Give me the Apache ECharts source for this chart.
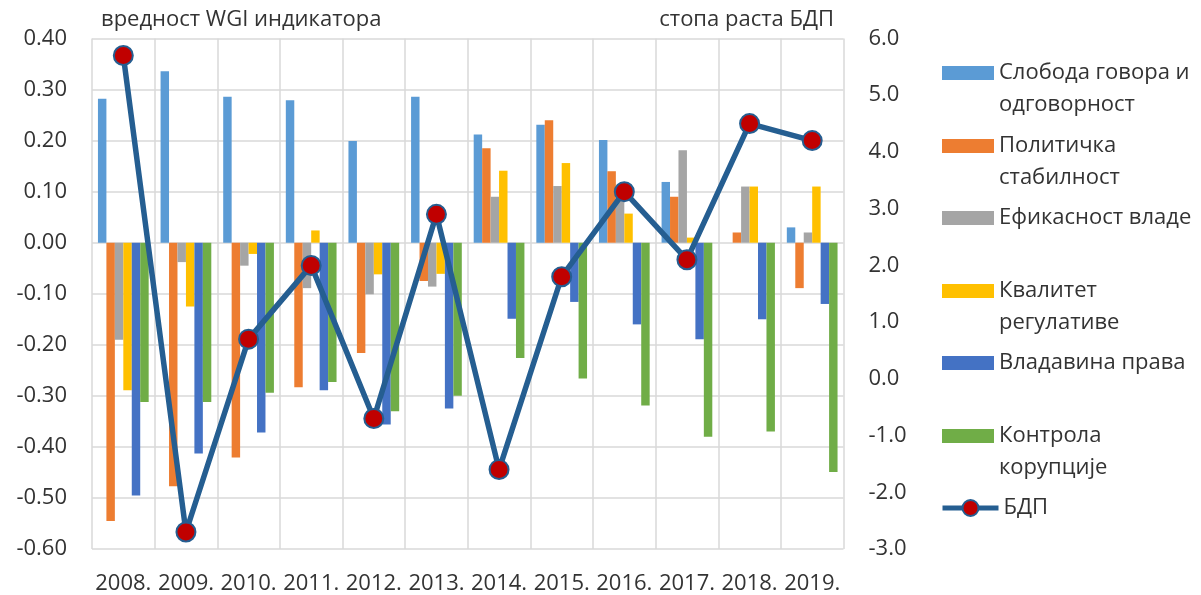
<!DOCTYPE html>
<html>
<head>
<meta charset="utf-8">
<script src="https://cdn.jsdelivr.net/npm/echarts@6/dist/echarts.min.js"></script>
<style>
html,body{margin:0;padding:0;background:#fff;}
#main{width:1201px;height:595px;}
</style>
</head>
<body>
<div id="main"></div>
<script>
const categories = ['2008.','2009.','2010.','2011.','2012.','2013.','2014.','2015.','2016.','2017.','2018.','2019.'];
const voice      = [0.282, 0.336, 0.286, 0.279, 0.199, 0.286, 0.212, 0.231, 0.201, 0.119, 0.000, 0.030];
const stability  = [-0.545,-0.477,-0.421,-0.283,-0.216,-0.075, 0.185, 0.240, 0.140, 0.090, 0.020,-0.089];
const government = [-0.190,-0.038,-0.045,-0.089,-0.101,-0.086, 0.090, 0.111, 0.085, 0.181, 0.110, 0.020];
const regulatory = [-0.289,-0.125,-0.022, 0.024,-0.062,-0.061, 0.141, 0.156, 0.057, 0.010, 0.110, 0.110];
const ruleOfLaw  = [-0.495,-0.413,-0.372,-0.289,-0.356,-0.325,-0.149,-0.116,-0.160,-0.189,-0.150,-0.120];
const corruption = [-0.312,-0.312,-0.294,-0.273,-0.330,-0.300,-0.226,-0.266,-0.319,-0.380,-0.370,-0.449];
const gdp        = [5.7, -2.7, 0.7, 2.0, -0.7, 2.9, -1.6, 1.8, 3.3, 2.1, 4.5, 4.2];

const barNames = ['Слобода говора и одговорност','Политичка стабилност','Ефикасност владе','Квалитет регулативе','Владавина права','Контрола корупције'];
const barLabels = ['Слобода говора и\nодговорност','Политичка\nстабилност','Ефикасност владе','Квалитет\nрегулативе','Владавина права','Контрола\nкорупције'];
const lineName = 'БДП';
const leftTicks = { min: -0.6, max: 0.4, interval: 0.1 };
const rightTicks = { min: -3, max: 6, interval: 1 };
const leftTitle = 'вредност WGI индикатора';
const rightTitle = 'стопа раста БДП';

const barData = [voice, stability, government, regulatory, ruleOfLaw, corruption];
const colors = ['#5B9BD5','#ED7D31','#A5A5A5','#FFC000','#4472C4','#70AD47'];
const FONT = 'Open Sans';
const TXT = '#333333';

const series = barNames.map((n, i) => ({
  name: n,
  type: 'bar',
  yAxisIndex: 0,
  data: barData[i],
  barGap: '0%',
  barCategoryGap: '19%',
  itemStyle: { color: colors[i] },
  emphasis: { disabled: true }
}));
series.push({
  name: lineName,
  type: 'line',
  yAxisIndex: 1,
  data: gdp,
  z: 5,
  symbol: 'circle',
  symbolSize: 19,
  lineStyle: { color: '#255E91', width: 5.5 },
  itemStyle: { color: '#C00000', borderColor: '#255E91', borderWidth: 2 },
  emphasis: { disabled: true }
});

// legend icon centers (y)
const legendY = [73, 146, 218, 291, 363, 436, 508];
const legends = barNames.map((n, i) => {
  const twoLine = barLabels[i].indexOf('\n') >= 0;
  return {
    data: [n],
    left: 942,
    top: twoLine ? legendY[i] - 48 : legendY[i] - 16,
    padding: 0,
    itemWidth: 52,
    itemHeight: 14,
    itemGap: 0,
    selectedMode: false,
    icon: 'rect',
    formatter: () => (twoLine ? ' \n' : '') + barLabels[i],
    textStyle: { fontFamily: FONT, fontSize: 22, color: TXT, lineHeight: 32 }
  };
});
legends.push({
  data: [lineName],
  left: 940,
  top: legendY[6] - 16,
  padding: 0,
  itemWidth: 56,
  itemHeight: 20,
  selectedMode: false,
  lineStyle: { width: 5 },
  textStyle: { fontFamily: FONT, fontSize: 22, color: TXT, lineHeight: 32 }
});

const chart = echarts.init(document.getElementById('main'), null, { renderer: 'canvas' });
chart.setOption({
  animation: false,
  backgroundColor: '#ffffff',
  textStyle: { fontFamily: FONT },
  grid: { left: 92, right: 357.5, top: 38.5, bottom: 46, containLabel: false },
  legend: legends,
  title: [
    { text: leftTitle, left: 101, top: 9, padding: 0, textStyle: { fontFamily: FONT, fontSize: 22, fontWeight: 'normal', color: TXT } },
    { text: rightTitle, right: 1201 - 834, top: 9, padding: 0, textStyle: { fontFamily: FONT, fontSize: 22, fontWeight: 'normal', color: TXT } }
  ],
  xAxis: {
    type: 'category',
    data: categories,
    boundaryGap: true,
    axisLine: { show: false },
    axisTick: { show: false },
    axisLabel: { fontFamily: FONT, fontSize: 22, color: TXT, margin: 24, interval: 0 },
    splitLine: { show: true, interval: 0, lineStyle: { color: '#D9D9D9', width: 1.5 } }
  },
  yAxis: [
    {
      type: 'value', position: 'left',
      min: leftTicks.min, max: leftTicks.max, interval: leftTicks.interval,
      axisLine: { show: false }, axisTick: { show: false },
      axisLabel: { fontFamily: FONT, fontSize: 22, color: TXT, margin: 25, formatter: v => v.toFixed(2) },
      splitLine: { show: true, lineStyle: { color: '#D9D9D9', width: 1.5 } }
    },
    {
      type: 'value', position: 'right',
      min: rightTicks.min, max: rightTicks.max, interval: rightTicks.interval,
      axisLine: { show: false }, axisTick: { show: false },
      axisLabel: { fontFamily: FONT, fontSize: 22, color: TXT, margin: 25, formatter: v => v.toFixed(1) },
      splitLine: { show: false }
    }
  ],
  series: series
});
</script>
</body>
</html>
